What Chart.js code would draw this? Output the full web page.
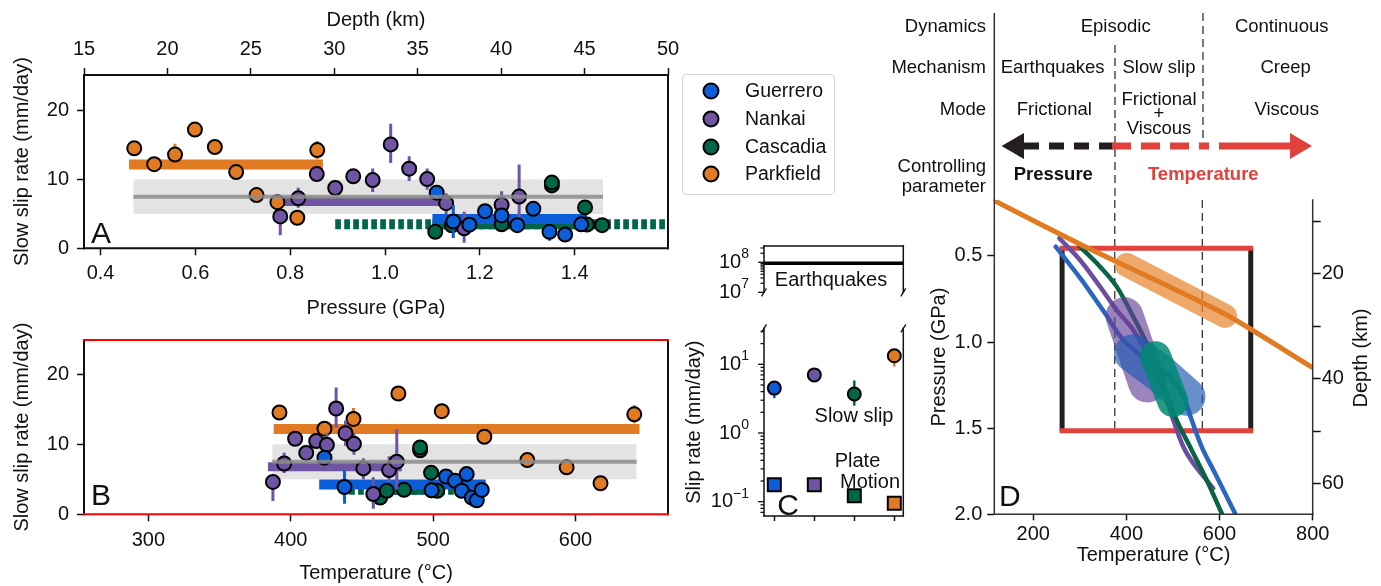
<!DOCTYPE html>
<html>
<head>
<meta charset="utf-8">
<script src="https://cdn.jsdelivr.net/npm/chart.js@4.4.1/dist/chart.umd.min.js"></script>
<style>
  html, body { margin:0; padding:0; background:#fff; }
  #wrap { position:relative; width:1381px; height:586px; overflow:hidden; font-family:"Liberation Sans", Arial, Helvetica, sans-serif; color:#111; }
  canvas { position:absolute; left:0; top:0; }
  .t { position:absolute; white-space:nowrap; line-height:1; }
  .c { transform:translate(-50%,-50%); text-align:center; }
  .r { transform:translate(-100%,-50%); text-align:right; }
  .l { transform:translate(0,-50%); }
  .tp { font-size:18.5px; }
  .lg { font-size:19.5px; }
  .an { font-size:20px; }
  .big { font-size:30px; }
  .dot { position:absolute; width:13px; height:13px; border:2px solid #000; border-radius:50%; transform:translate(-50%,-50%); }
</style>
</head>
<body>
<div id="wrap">
  <canvas id="cA" width="1381" height="586"></canvas>
  <canvas id="cB" width="1381" height="586"></canvas>
  <canvas id="cC1" width="1381" height="586"></canvas>
  <canvas id="cC2" width="1381" height="586"></canvas>
  <canvas id="cD" width="1381" height="586"></canvas>

  <svg width="1381" height="586" style="position:absolute;left:0;top:0;pointer-events:none">
    <line x1="994.3" y1="13" x2="994.3" y2="201" stroke="#333" stroke-width="1.5"/>
    <line x1="1115" y1="45" x2="1115" y2="200" stroke="#333" stroke-width="1.3" stroke-dasharray="8,5"/>
    <line x1="1203" y1="13" x2="1203" y2="147" stroke="#333" stroke-width="1.3" stroke-dasharray="8,5"/>
    <polygon points="1001.5,146 1024,133 1024,159" fill="#231f20"/>
    <line x1="1024" y1="146" x2="1113" y2="146" stroke="#231f20" stroke-width="7" stroke-dasharray="15,10"/>
    <line x1="1112" y1="146" x2="1209" y2="146" stroke="#e0413b" stroke-width="7" stroke-dasharray="19,10"/>
    <line x1="1219" y1="146" x2="1292" y2="146" stroke="#e0413b" stroke-width="7"/>
    <polygon points="1312,146 1290,133 1290,159" fill="#e0413b"/>
  </svg>

  <!-- schematic text panel -->
  <div class="t tp r" style="left:986px;top:25.7px">Dynamics</div>
  <div class="t tp r" style="left:986px;top:66.7px">Mechanism</div>
  <div class="t tp r" style="left:986px;top:109px">Mode</div>
  <div class="t tp r" style="left:986px;top:166px">Controlling</div>
  <div class="t tp r" style="left:986px;top:186px">parameter</div>
  <div class="t tp c" style="left:1115.7px;top:25.7px">Episodic</div>
  <div class="t tp c" style="left:1281.7px;top:25.7px">Continuous</div>
  <div class="t tp c" style="left:1052.7px;top:66.7px">Earthquakes</div>
  <div class="t tp c" style="left:1159px;top:66.7px">Slow slip</div>
  <div class="t tp c" style="left:1285.7px;top:66.7px">Creep</div>
  <div class="t tp c" style="left:1054.3px;top:109px">Frictional</div>
  <div class="t tp c" style="left:1159px;top:98.8px">Frictional</div>
  <div class="t tp c" style="left:1159px;top:113px">+</div>
  <div class="t tp c" style="left:1159px;top:127.5px">Viscous</div>
  <div class="t tp c" style="left:1286.7px;top:109px">Viscous</div>
  <div class="t tp c" style="left:1053.3px;top:174px;font-weight:bold">Pressure</div>
  <div class="t tp c" style="left:1203.3px;top:174px;font-weight:bold;color:#e0413b">Temperature</div>

  <!-- legend -->
  <div style="position:absolute;left:681.5px;top:73.5px;width:153.5px;height:121.5px;border:1px solid #d4d4d4;border-radius:4px;box-sizing:border-box;"></div>
  <div class="dot" style="left:710.7px;top:91px;background:#0b5ed7"></div>
  <div class="dot" style="left:710.7px;top:119px;background:#6f55a3"></div>
  <div class="dot" style="left:710.7px;top:146.5px;background:#00664a"></div>
  <div class="dot" style="left:710.7px;top:174px;background:#e07b24"></div>
  <div class="t lg l" style="left:745px;top:91px">Guerrero</div>
  <div class="t lg l" style="left:745px;top:119px">Nankai</div>
  <div class="t lg l" style="left:745px;top:146.5px">Cascadia</div>
  <div class="t lg l" style="left:745px;top:174px">Parkfield</div>

  <!-- panel letters & annotations -->
  <div class="t big l" style="left:91px;top:232.5px">A</div>
  <div class="t big l" style="left:91px;top:495px">B</div>
  <div class="t big c" style="left:788px;top:505px">C</div>
  <div class="t big l" style="left:999px;top:496px">D</div>
  <div class="t an c" style="left:831px;top:278.5px">Earthquakes</div>
  <div class="t an c" style="left:854px;top:415px">Slow slip</div>
  <div class="t an c" style="left:857.5px;top:460px">Plate</div>
  <div class="t an c" style="left:870px;top:481px">Motion</div>
  <div class="t an c" style="left:1360px;top:358px;transform:translate(-50%,-50%) rotate(-90deg)">Depth (km)</div>
</div>

<script>
// ======================= DATA =======================
const seriesNames  = ['Guerrero', 'Nankai', 'Cascadia', 'Parkfield'];

// Panels A/B: individual slow slip events (pressure GPa, temperature °C, rate mm/day)
const guerreroPressure = [1.109, 1.144, 1.178, 1.211, 1.246, 1.279, 1.313, 1.347, 1.380, 1.414];
const guerreroTemp     = [423.7, 437.8, 499.0, 509.1, 515.4, 520.1, 523.6, 527.2, 530.7, 534.2];
const guerreroRate     = [8.09, 3.90, 3.43, 5.40, 4.78, 3.36, 5.74, 2.39, 2.01, 3.48];
const guerreroRateLow  = [null, 1.5, null, null, null, null, null, 1.1, null, null];
const guerreroRateHigh = [null, 6.3, null, null, null, null, null, 3.4, null, null];

const nankaiPressure = [0.779, 0.817, 0.856, 0.895, 0.933, 0.974, 1.012, 1.051, 1.089, 1.129, 1.167, 1.246, 1.283];
const nankaiTemp     = [387.5, 395.4, 403.1, 410.9, 417.9, 425.4, 431.9, 438.5, 444.4, 451.0, 458.0, 469.1, 474.5];
const nankaiRate     = [4.63, 7.26, 10.79, 8.77, 10.47, 9.92, 15.11, 11.58, 10.07, 6.56, 2.90, 6.32, 7.52];
const nankaiRateLow  = [1.9, 5.9, null, null, null, 8.2, 12.4, 9.8, 8.5, 5.0, 0.8, 4.6, 3.5];
const nankaiRateHigh = [5.6, 8.8, null, null, null, 11.6, 18.1, 13.4, 11.6, 8.0, 5.3, 8.3, 12.2];

const cascadiaPressure = [1.106, 1.141, 1.246, 1.352, 1.352, 1.422, 1.426, 1.458];
const cascadiaTemp     = [462.8, 467.5, 479.6, 490.9, 490.9, 498.6, 499.0, 502.9];
const cascadiaRate     = [2.40, 3.35, 3.50, 9.15, 9.55, 5.95, 3.45, 3.36];

const parkfieldPressure = [0.471, 0.513, 0.557, 0.599, 0.641, 0.686, 0.729, 0.773, 0.815, 0.857];
const parkfieldTemp     = [392.1, 423.7, 444.1, 475.6, 506.1, 536.0, 566.2, 593.8, 617.6, 641.3];
const parkfieldRate     = [14.54, 12.23, 13.63, 17.26, 14.73, 11.08, 7.74, 6.71, 4.44, 14.28];
const parkfieldRateLow  = [null, null, 12.1, null, null, null, null, null, null, 13.0];
const parkfieldRateHigh = [null, null, 15.2, null, null, null, null, null, null, 15.6];

// mean rate of each region (Guerrero, Nankai, Cascadia, Parkfield) and its P / T span
const meanRate         = [4.27, 6.8, 3.5, 12.2];
const meanPressureSpan = [[1.100, 1.426], [0.762, 1.131], [1.100, 1.460], [0.460, 0.869]];
const meanTempSpan     = [[420.0, 537.0], [384.0, 478.0], [460.0, 508.0], [388.0, 645.0]];
const cascadiaExtrapPressure = [0.895, 1.60];
const cascadiaExtrapTemp     = [441.0, 537.0];
const overallMean         = 7.5;
const overallBand         = [5.0, 10.0];
const overallPressureSpan = [0.469, 1.460];
const overallTempSpan     = [387.0, 643.0];

// tick labels
const rateTicks      = [0, 10, 20];
const pressureTicksA = [0.4, 0.6, 0.8, 1.0, 1.2, 1.4];
const depthTicksA    = [15, 20, 25, 30, 35, 40, 45, 50];
const tempTicksB     = [300, 400, 500, 600];

// Panel C: average slip rates (mm/day)
const cSlowSlip      = [4.5, 7.0, 3.7, 13.3];
const cSlowSlipLow   = [3.2, 6.0, 2.5, 9.3];
const cSlowSlipHigh  = [4.5, 7.0, 5.8, 13.3];
const cPlateMotion   = [0.177, 0.177, 0.122, 0.095];
const cEarthquake    = 9.3e7;
const cLowerExps     = [-1, 0, 1];
const cUpperExps     = [7, 8];

// Panel D: P-T paths
const guerreroPathT = [248.2, 304.1, 354.1, 393.4, 443.6, 493.6, 522.2, 540.2, 561.7, 590.3, 633.2];
const guerreroPathP = [0.446, 0.640, 0.833, 0.988, 1.104, 1.201, 1.317, 1.453, 1.608, 1.762, 1.994];
const nankaiPathT   = [256.0, 300.4, 343.4, 379.2, 414.8, 443.6, 465.1, 486.6, 500.7, 522.2, 543.7, 586.6];
const nankaiPathP   = [0.397, 0.523, 0.678, 0.814, 0.930, 1.065, 1.201, 1.336, 1.453, 1.608, 1.704, 1.849];
const cascadiaPathT = [300.4, 343.4, 379.2, 414.8, 443.6, 465.1, 486.6, 508.0, 536.6, 572.4, 604.6];
const cascadiaPathP = [0.446, 0.562, 0.678, 0.853, 1.007, 1.143, 1.298, 1.453, 1.608, 1.801, 1.994];
const geothermT     = [116.4, 304.1, 611.7, 800.0];
const geothermP     = [0.179, 0.436, 0.837, 1.149];
const guerreroSseT  = [414.0, 472.0, 529.0];
const guerreroSseP  = [1.065, 1.181, 1.317];
const nankaiSseT    = [396.0, 445.0];
const nankaiSseP    = [0.850, 1.240];
const cascadiaSseT  = [462.5, 500.0];
const cascadiaSseP  = [1.085, 1.345];
const parkfieldSseT = [400.7, 611.7];
const parkfieldSseP = [0.552, 0.848];
const regimeTemps   = [375, 563];
const windowTemp    = [262, 667];
const windowPress   = [0.455, 1.515];
const tempTicksD    = [200, 400, 600, 800];
const pressTicksD   = [0.5, 1.0, 1.5, 2.0];
const depthTicksD   = [10, 20, 30, 40, 50, 60];

// ======================= STYLE / HELPERS =======================
const COLORS = ['#0b5ed7', '#6f55a3', '#00664a', '#e07b24'];
Chart.defaults.font.family = '"Liberation Sans", Arial, Helvetica, sans-serif';
Chart.defaults.font.size = 20;
Chart.defaults.color = '#111';

const pts = (xs, ys) => xs.map((x, i) => ({x, y: ys[i]}));
const seg = (span, y) => [{x: span[0], y}, {x: span[1], y}];
const vseg = (x, span) => [{x, y: span[0]}, {x, y: span[1]}];

function lineDS(data, color, width, extra) {
  return Object.assign({type: 'line', data, borderColor: color, borderWidth: width, pointRadius: 0,
    borderCapStyle: 'butt', fill: false, tension: 0}, extra || {});
}
function pointDS(data, color, low, high, radius) {
  return {type: 'line', data, showLine: false, pointRadius: radius || 7, pointBorderWidth: 2,
    pointBorderColor: '#000', pointBackgroundColor: color, borderColor: color, backgroundColor: color,
    errLow: low, errHigh: high, errColor: color};
}

function axis(position, min, max, tickVals, fmt, title, size, o) {
  o = o || {};
  return {
    type: o.type || 'linear', position, min, max, reverse: !!o.reverse, bounds: 'data',
    display: o.display === undefined ? true : o.display,
    afterFit: s => { if (s.isHorizontal()) s.height = size; else s.width = size; },
    afterBuildTicks: tickVals ? (s => { s.ticks = tickVals.map(v => ({value: v})); }) : undefined,
    border: {display: false},
    grid: {display: o.grid === undefined ? true : o.grid, drawOnChartArea: false, drawTicks: true,
      tickLength: o.tickLen === undefined ? 7 : o.tickLen, tickColor: '#111', tickWidth: 1.5, color: '#111'},
    ticks: {display: o.showLabels === undefined ? true : o.showLabels, autoSkip: false, maxRotation: 0, minRotation: 0,
      padding: o.tickPad === undefined ? 6 : o.tickPad, color: '#111', font: {size: 20},
      callback: v => fmt ? fmt(v) : ''},
    title: title ? {display: true, text: title, color: '#111', font: {size: 20},
      padding: o.titlePad || {top: 0, bottom: 0}} : {display: false}
  };
}

const framePlugin = {
  id: 'frame',
  afterDatasetsDraw(chart, args, opts) {
    const sides = opts.sides; if (!sides) return;
    const a = chart.chartArea, ctx = chart.ctx;
    ctx.save(); ctx.lineCap = 'square';
    for (const side of Object.keys(sides)) {
      const st = sides[side];
      ctx.strokeStyle = st.color; ctx.lineWidth = st.width;
      ctx.beginPath();
      if (side === 'top')    { ctx.moveTo(a.left, a.top);    ctx.lineTo(a.right, a.top); }
      if (side === 'bottom') { ctx.moveTo(a.left, a.bottom); ctx.lineTo(a.right, a.bottom); }
      if (side === 'left')   { ctx.moveTo(a.left, a.top);    ctx.lineTo(a.left, a.bottom); }
      if (side === 'right')  { ctx.moveTo(a.right, a.top);   ctx.lineTo(a.right, a.bottom); }
      ctx.stroke();
    }
    ctx.restore();
  }
};

const errPlugin = {
  id: 'errbars',
  beforeDatasetDraw(chart, args) {
    const ds = chart.data.datasets[args.index];
    if (!ds.errLow) return;
    const xs = chart.scales[args.meta.xAxisID], ys = chart.scales[args.meta.yAxisID];
    const a = chart.chartArea, ctx = chart.ctx;
    ctx.save();
    ctx.beginPath(); ctx.rect(a.left, a.top, a.right - a.left, a.bottom - a.top); ctx.clip();
    ds.data.forEach((d, i) => {
      const lo = ds.errLow[i], hi = ds.errHigh[i];
      if (lo == null || hi == null) return;
      ctx.strokeStyle = Array.isArray(ds.errColor) ? ds.errColor[i] : ds.errColor;
      ctx.lineWidth = ds.errWidth || 3;
      const x = xs.getPixelForValue(d.x);
      ctx.beginPath(); ctx.moveTo(x, ys.getPixelForValue(lo)); ctx.lineTo(x, ys.getPixelForValue(hi)); ctx.stroke();
    });
    ctx.restore();
  }
};

const logAxisPlugin = {
  id: 'logAxis',
  afterDraw(chart, args, opts) {
    if (!opts.exps) return;
    const s = chart.scales.y, ctx = chart.ctx, x0 = chart.chartArea.left;
    ctx.save(); ctx.strokeStyle = '#111'; ctx.lineWidth = 1.3;
    for (let e = opts.exps[0] - 1; e <= opts.exps[opts.exps.length - 1]; e++) {
      for (let m = 1; m < 10; m++) {
        const v = m * Math.pow(10, e);
        if (v < s.min || v > s.max) continue;
        const y = s.getPixelForValue(v);
        ctx.beginPath(); ctx.moveTo(x0, y); ctx.lineTo(x0 - (m === 1 ? 6 : 3.5), y); ctx.stroke();
      }
    }
    ctx.fillStyle = '#111'; ctx.textBaseline = 'middle'; ctx.textAlign = 'right';
    const xr = x0 - 15;
    for (const e of opts.exps) {
      const y = s.getPixelForValue(Math.pow(10, e));
      const ex = e < 0 ? '\u2212' + Math.abs(e) : String(e);
      ctx.font = '14px "Liberation Sans", Arial, sans-serif';
      const ew = ctx.measureText(ex).width;
      ctx.fillText(ex, xr, y - 8);
      ctx.font = '20px "Liberation Sans", Arial, sans-serif';
      ctx.fillText('10', xr - ew, y);
    }
    if (opts.breakEdge) {
      const a = chart.chartArea;
      const yb = opts.breakEdge === 'top' ? a.top : a.bottom;
      ctx.lineWidth = 1.3;
      for (const x of [a.left, a.right]) {
        ctx.beginPath(); ctx.moveTo(x - 2.5, yb + 4); ctx.lineTo(x + 2.5, yb - 4); ctx.stroke();
      }
    }
    ctx.restore();
  }
};

const baseOpts = {responsive: false, devicePixelRatio: 1, animation: false, events: []};

// ======================= PANELS A & B =======================
function slowSlipDatasets(g, n, c, p, spans, extrap, overallSpan) {
  const ds = [];
  ds.push(lineDS(seg(overallSpan, overallMean), 'rgba(140,140,140,0.85)', 4));                // 0 top
  ds.push(pointDS(pts(g, guerreroRate), COLORS[0], guerreroRateLow, guerreroRateHigh));      // 1
  ds.push(pointDS(pts(n, nankaiRate), COLORS[1], nankaiRateLow, nankaiRateHigh));            // 2
  ds.push(pointDS(pts(c, cascadiaRate), COLORS[2], null, null));                              // 3
  ds.push(pointDS(pts(p, parkfieldRate), COLORS[3], parkfieldRateLow, parkfieldRateHigh));   // 4
  ds.push(lineDS(seg(spans[0], meanRate[0]), COLORS[0], 10));                                  // 5
  ds.push(lineDS(seg(spans[1], meanRate[1]), COLORS[1], 9));
  ds.push(lineDS(seg(spans[3], meanRate[3]), COLORS[3], 10));
  ds.push(lineDS(seg(spans[2], meanRate[2]), COLORS[2], 10));
  ds.push(lineDS(seg(extrap, meanRate[2]), COLORS[2], 10, {borderDash: [5.7, 3.3]}));         // 9
  ds.push(lineDS(seg(overallSpan, overallBand[1]), 'rgba(0,0,0,0)', 0, {fill: '+1', backgroundColor: 'rgba(200,200,200,0.5)'})); // 10
  ds.push(lineDS(seg(overallSpan, overallBand[0]), 'rgba(0,0,0,0)', 0));                      // 11
  ds.forEach((d, i) => { d.order = i === 0 ? 0 : (i < 5 ? 1 : (i < 10 ? 2 : 3)); });
  return ds;
}

new Chart(document.getElementById('cA'), {
  type: 'line',
  data: {datasets: slowSlipDatasets(guerreroPressure, nankaiPressure, cascadiaPressure, parkfieldPressure,
    meanPressureSpan, cascadiaExtrapPressure, overallPressureSpan)},
  options: Object.assign({}, baseOpts, {
    layout: {padding: {left: 0, top: 0, right: 713, bottom: 266}},
    scales: {
      x: axis('bottom', 0.365, 1.597, pressureTicksA, v => v.toFixed(1), 'Pressure (GPa)', 71.7, {tickPad: 6}),
      x2: axis('top', 15, 50, depthTicksA, v => String(v), 'Depth (km)', 75, {tickPad: 7, titlePad: {top: 8, bottom: 0}}),
      y: axis('left', 0, 25.2, rateTicks, v => String(v), 'Slow slip rate (mm/day)', 84, {tickPad: 8, titlePad: {top: 10, bottom: 0}})
    },
    plugins: {legend: {display: false}, tooltip: {enabled: false},
      frame: {sides: {top: {color: '#111', width: 2}, bottom: {color: '#111', width: 2}, left: {color: '#111', width: 2}, right: {color: '#111', width: 2}}}}
  }),
  plugins: [framePlugin, errPlugin]
});

new Chart(document.getElementById('cB'), {
  type: 'line',
  data: {datasets: slowSlipDatasets(guerreroTemp, nankaiTemp, cascadiaTemp, parkfieldTemp,
    meanTempSpan, cascadiaExtrapTemp, overallTempSpan)},
  options: Object.assign({}, baseOpts, {
    layout: {padding: {left: 0, top: 340, right: 713, bottom: 1}},
    scales: {
      x: axis('bottom', 254.8, 665, tempTicksB, v => String(v), 'Temperature (\u00b0C)', 70.7, {tickPad: 7}),
      y: axis('left', 0, 24.9, rateTicks, v => String(v), 'Slow slip rate (mm/day)', 84, {tickPad: 8, titlePad: {top: 10, bottom: 0}})
    },
    plugins: {legend: {display: false}, tooltip: {enabled: false},
      frame: {sides: {left: {color: '#111', width: 2}, right: {color: '#111', width: 2}, top: {color: '#f00', width: 2}, bottom: {color: '#f00', width: 2}}}}
  }),
  plugins: [framePlugin, errPlugin]
});

// ======================= PANEL C =======================
const cCats = seriesNames.map((_, i) => i);

new Chart(document.getElementById('cC1'), {
  type: 'line',
  data: {datasets: [lineDS(seg([-0.258, 3.225], cEarthquake), '#000', 3.5)]},
  options: Object.assign({}, baseOpts, {
    layout: {padding: {left: 680, top: 246, right: 477.7, bottom: 293.7}},
    scales: {
      x: axis('bottom', -0.258, 3.225, cCats, null, null, 0, {display: false}),
      y: axis('left', 1e7, 3.49e8, null, null, null, 84, {type: 'logarithmic', grid: false, showLabels: false})
    },
    plugins: {legend: {display: false}, tooltip: {enabled: false},
      frame: {sides: {top: {color: '#111', width: 1.5}, left: {color: '#111', width: 1.5}, right: {color: '#111', width: 1.5}}},
      logAxis: {exps: cUpperExps, breakEdge: 'bottom'}}
  }),
  plugins: [framePlugin, logAxisPlugin]
});

const slowDS = pointDS(pts(cCats, cSlowSlip), COLORS, cSlowSlipLow, cSlowSlipHigh, 6.5);
slowDS.pointBackgroundColor = COLORS; slowDS.errColor = COLORS; slowDS.errWidth = 2.5;
const plateDS = pointDS(pts(cCats, cPlateMotion), COLORS, null, null, 9.2);
plateDS.pointStyle = 'rect'; plateDS.pointBackgroundColor = COLORS;

new Chart(document.getElementById('cC2'), {
  type: 'line',
  data: {datasets: [slowDS, plateDS]},
  options: Object.assign({}, baseOpts, {
    layout: {padding: {left: 680, top: 328.3, right: 477.7, bottom: 60}},
    scales: {
      x: axis('bottom', -0.258, 3.225, cCats, null, null, 10, {tickLen: 5, showLabels: false}),
      y: axis('left', 0.0619, 33.4, null, null, 'Slip rate (mm/day)', 84, {type: 'logarithmic', grid: false, showLabels: false, titlePad: {top: 2, bottom: 0}})
    },
    plugins: {legend: {display: false}, tooltip: {enabled: false},
      frame: {sides: {bottom: {color: '#111', width: 1.5}, left: {color: '#111', width: 1.5}, right: {color: '#111', width: 1.5}}},
      logAxis: {exps: cLowerExps, breakEdge: 'top'}}
  }),
  plugins: [framePlugin, errPlugin, logAxisPlugin]
});

// ======================= PANEL D =======================
const dList = [
  lineDS(vseg(regimeTemps[0], [0.175, windowPress[1]]), '#333', 1.3, {borderDash: [8, 5]}),
  lineDS(vseg(regimeTemps[1], [0.175, windowPress[1]]), '#333', 1.3, {borderDash: [8, 5]}),
  lineDS(vseg(windowTemp[0], windowPress), '#231f20', 5),
  lineDS(vseg(windowTemp[1], windowPress), '#231f20', 5),
  lineDS(seg(windowTemp, windowPress[0]), '#e0413b', 5, {borderCapStyle: 'square'}),
  lineDS(seg(windowTemp, windowPress[1]), '#e0413b', 5, {borderCapStyle: 'square'}),
  lineDS(pts(guerreroPathT, guerreroPathP), '#2a66c0', 4.5, {tension: 0.35, borderCapStyle: 'round'}),
  lineDS(pts(nankaiPathT, nankaiPathP), '#6b4f9e', 4.5, {tension: 0.35, borderCapStyle: 'round'}),
  lineDS(pts(cascadiaPathT, cascadiaPathP), '#0a6345', 4.5, {tension: 0.35, borderCapStyle: 'round'}),
  lineDS(pts(nankaiSseT, nankaiSseP), 'rgba(102,64,152,0.65)', 38, {borderCapStyle: 'round', borderJoinStyle: 'round'}),
  lineDS(pts(guerreroSseT, guerreroSseP), 'rgba(35,91,179,0.68)', 38, {borderCapStyle: 'round', borderJoinStyle: 'round'}),
  lineDS(pts(cascadiaSseT, cascadiaSseP), 'rgba(0,138,114,0.85)', 31, {borderCapStyle: 'round', borderJoinStyle: 'round'}),
  lineDS(pts(parkfieldSseT, parkfieldSseP), 'rgba(230,134,48,0.72)', 24, {borderCapStyle: 'round', borderJoinStyle: 'round'}),
  lineDS(pts(geothermT, geothermP), '#e07b24', 5, {tension: 0.2})
];
dList.forEach((d, i) => { d.order = dList.length - i; });

new Chart(document.getElementById('cD'), {
  type: 'line',
  data: {datasets: dList},
  options: Object.assign({}, baseOpts, {
    layout: {padding: {left: 915, top: 200, right: 36, bottom: 19}},
    scales: {
      x: axis('bottom', 116.4, 800, tempTicksD, v => String(v), 'Temperature (\u00b0C)', 52.7, {tickLen: 6, tickPad: 2}),
      y: axis('left', 0.175, 2.0, pressTicksD, v => v.toFixed(1), 'Pressure (GPa)', 79.3, {reverse: true, tickLen: 7, tickPad: 5, titlePad: {top: 12, bottom: 0}}),
      y2: axis('right', 5.88, 65.9, depthTicksD, v => (v % 20 === 0 ? String(v) : ''), null, 32.3, {reverse: true, tickLen: 8, tickPad: 1})
    },
    plugins: {legend: {display: false}, tooltip: {enabled: false},
      frame: {sides: {left: {color: '#333', width: 1.5}, bottom: {color: '#333', width: 1.5}, right: {color: '#333', width: 1.5}}}}
  }),
  plugins: [framePlugin]
});
</script>
</body>
</html>
